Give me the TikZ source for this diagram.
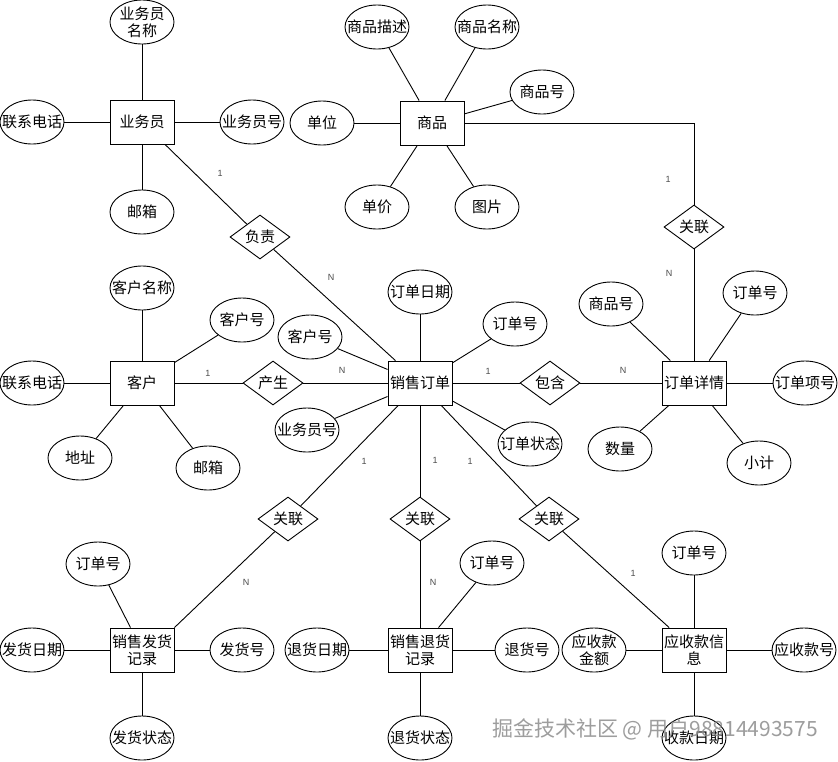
\documentclass[tikz,border=0pt]{standalone}
\usepackage{fontspec}
\setmainfont{Noto Sans CJK SC}
\newfontfamily\latinf{Liberation Sans}
\usetikzlibrary{shapes.geometric}
\begin{document}
\begin{tikzpicture}[x=1pt,y=-1pt,line width=0.9pt,
  txt/.style={font=\fontsize{15}{17}\selectfont,align=center,inner sep=0pt},
  ent/.style={draw,rectangle,minimum width=64pt,minimum height=44pt,inner sep=0pt,txt},
  attr/.style={draw,ellipse,minimum width=64pt,minimum height=44pt,inner sep=0pt,label={[txt]center:{#1}}},
  rel/.style={draw,diamond,minimum width=60pt,minimum height=44pt,inner sep=0pt,label={[txt]center:{#1}}},
  card/.style={font=\latinf\fontsize{9}{10}\selectfont,text=black!70,inner sep=0pt},
  wm/.style={font=\fontsize{21}{23}\selectfont,text=black!45,opacity=0.85,inner sep=0pt}]
\useasboundingbox[fill=white] (0,0) rectangle (838,761);
% entities
\node[ent] (yw) at (142,122) {业务员};
\node[ent] (sp) at (432,123) {商品};
\node[ent] (kh) at (142,383) {客户};
\node[ent] (xd) at (420,383) {销售订单};
\node[ent] (dd) at (694,383) {订单详情};
\node[ent] (fh) at (142,650) {销售发货\\记录};
\node[ent] (th) at (420,650) {销售退货\\记录};
\node[ent] (ys) at (694,650) {应收款信\\息};
% attributes
\node[attr={业务员\\名称}] (a1) at (142,22) {};
\node[attr=联系电话] (a2) at (32,122) {};
\node[attr=业务员号] (a3) at (252,122) {};
\node[attr=邮箱] (a4) at (142,212) {};
\node[attr=单位] (b1) at (322,123) {};
\node[attr=商品描述] (b2) at (377,27) {};
\node[attr=商品名称] (b3) at (487,27) {};
\node[attr=商品号] (b4) at (542,92) {};
\node[attr=单价] (b5) at (377,207) {};
\node[attr=图片] (b6) at (487,207) {};
\node[attr=客户名称] (c1) at (142,288) {};
\node[attr=客户号] (c2) at (242,320) {};
\node[attr=联系电话] (c3) at (32,383) {};
\node[attr=地址] (c4) at (80,458) {};
\node[attr=邮箱] (c5) at (208,468) {};
\node[attr=订单日期] (d1) at (420,292) {};
\node[attr=订单号] (d2) at (515,324) {};
\node[attr=客户号] (d3) at (310,337) {};
\node[attr=业务员号] (d4) at (307,430) {};
\node[attr=订单状态] (d5) at (530,444) {};
\node[attr=商品号] (e1) at (611,304) {};
\node[attr=订单号] (e2) at (755,293) {};
\node[attr=订单项号] (e3) at (805,383) {};
\node[attr=数量] (e4) at (620,449) {};
\node[attr=小计] (e5) at (759,463) {};
\node[attr=订单号] (f1) at (98,564) {};
\node[attr=发货日期] (f2) at (32,650) {};
\node[attr=发货号] (f3) at (242,650) {};
\node[attr=发货状态] (f4) at (142,738) {};
\node[attr=退货日期] (g1) at (317,650) {};
\node[attr=订单号] (g2) at (492,563) {};
\node[attr=退货号] (g3) at (527,650) {};
\node[attr=退货状态] (g4) at (420,738) {};
\node[attr={应收款\\金额}] (h1) at (594,650) {};
\node[attr=订单号] (h2) at (694,553) {};
\node[attr=应收款号] (h3) at (804,650) {};
\node[attr=收款日期] (h4) at (694,738) {};
% relations
\node[rel=负责] (r1) at (260,237) {};
\node[rel=关联] (r2) at (694,227) {};
\node[rel=产生] (r3) at (273,383) {};
\node[rel=包含] (r4) at (550,383) {};
\node[rel=关联] (r5) at (288,519) {};
\node[rel=关联] (r6) at (420,519) {};
\node[rel=关联] (r7) at (549,519) {};
% attribute connectors
\foreach \e/\a in {yw/a1,yw/a2,yw/a3,yw/a4,
  sp/b1,sp/b2,sp/b3,sp/b4,sp/b5,sp/b6,
  kh/c1,kh/c2,kh/c3,kh/c4,kh/c5,
  xd/d1,xd/d2,xd/d3,xd/d4,xd/d5,
  dd/e1,dd/e2,dd/e3,dd/e4,dd/e5,
  fh/f1,fh/f2,fh/f3,fh/f4,
  th/g1,th/g2,th/g3,th/g4,
  ys/h1,ys/h2,ys/h3,ys/h4}
  \draw (\e) -- (\a);
% relationship connectors
\draw (yw) -- (r1) -- (xd);
\draw (kh) -- (r3) -- (xd);
\draw (xd) -- (r4) -- (dd);
\draw (sp.east) -| (r2.north);
\draw (r2) -- (dd);
\draw (xd) -- (r5);
\draw (r5) -- (fh.north east);
\draw (xd) -- (r6) -- (th);
\draw (xd) -- (r7) -- (ys);
% cardinalities
\node[card] (k1) at (220,173) {1};
\node[card] (k2) at (331,277) {N};
\node[card] (k3) at (208,373) {1};
\node[card] (k4) at (342,370) {N};
\node[card] (k5) at (488,371) {1};
\node[card] (k6) at (623,370) {N};
\node[card] (k7) at (668,179) {1};
\node[card] (k8) at (669,273) {N};
\node[card] (k9) at (364,461) {1};
\node[card] (k10) at (435,460) {1};
\node[card] (k11) at (470,461) {1};
\node[card] (k12) at (246,582) {N};
\node[card] (k13) at (433,582) {N};
\node[card] (k14) at (633,573) {1};
% watermark
\node[wm] (wmk) at (655,729) {掘金技术社区 @ 用户98814493575};
\end{tikzpicture}
\end{document}
